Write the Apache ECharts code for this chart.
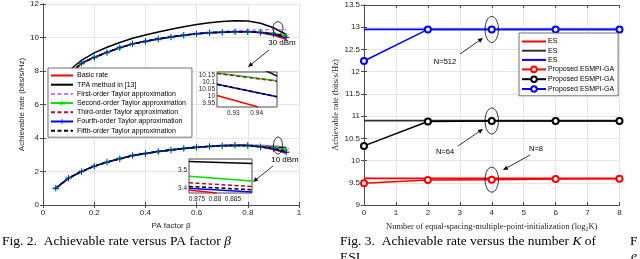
<!DOCTYPE html>
<html><head><meta charset="utf-8">
<script src="https://cdn.jsdelivr.net/npm/echarts@6/dist/echarts.min.js"></script>
<style>html,body{margin:0;padding:0;background:#fff}#c{width:640px;height:259px}</style>
</head><body><div id="c"></div>
<script>
// ---------- Fig. 2 data (PA factor beta) ----------
const beta = [0.05,0.1,0.15,0.2,0.25,0.3,0.35,0.4,0.45,0.5,0.55,0.6,0.65,0.7,0.75,0.8,0.85,0.9,0.95];
// 30 dBm
const basic30  = [6.7,7.75,8.46,8.81,9.11,9.39,9.62,9.77,9.91,10.03,10.14,10.22,10.28,10.32,10.34,10.34,10.29,10.14,9.88];
const tpa30    = [7.0,8.0,8.64,9.08,9.42,9.7,9.95,10.15,10.33,10.49,10.64,10.78,10.88,10.96,11.0,10.98,10.85,10.58,10.18];
const first30  = [6.7,7.75,8.46,8.81,9.11,9.39,9.62,9.77,9.91,10.03,10.14,10.22,10.3,10.36,10.41,10.44,10.46,10.48,10.46];
const second30 = [6.7,7.75,8.46,8.81,9.11,9.39,9.62,9.77,9.91,10.03,10.14,10.22,10.28,10.32,10.34,10.35,10.32,10.25,10.1];
const third30  = [6.7,7.75,8.46,8.81,9.11,9.39,9.62,9.77,9.91,10.03,10.14,10.22,10.28,10.32,10.34,10.35,10.32,10.24,10.09];
const fourth30 = [6.7,7.75,8.46,8.81,9.11,9.39,9.62,9.77,9.91,10.03,10.14,10.22,10.28,10.32,10.34,10.34,10.3,10.19,9.99];
const fifth30  = [6.7,7.75,8.46,8.81,9.11,9.39,9.62,9.77,9.91,10.03,10.14,10.22,10.28,10.32,10.34,10.34,10.3,10.19,9.99];
// 10 dBm
const basic10  = [1.0,1.6,1.99,2.32,2.56,2.76,2.95,3.08,3.19,3.29,3.38,3.45,3.5,3.54,3.56,3.54,3.46,3.33,3.08];
const tpa10    = [1.0,1.6,1.99,2.32,2.56,2.76,2.95,3.08,3.19,3.29,3.38,3.45,3.5,3.54,3.56,3.56,3.53,3.49,3.42];
const first10  = [1.0,1.6,1.99,2.32,2.56,2.76,2.95,3.08,3.19,3.29,3.38,3.45,3.51,3.55,3.58,3.58,3.57,3.54,3.47];
const second10 = [1.0,1.6,1.99,2.32,2.56,2.76,2.95,3.08,3.19,3.29,3.38,3.45,3.5,3.54,3.56,3.55,3.5,3.42,3.3];
const third10  = [1.0,1.6,1.99,2.32,2.56,2.76,2.95,3.08,3.19,3.29,3.38,3.45,3.5,3.54,3.56,3.55,3.49,3.39,3.22];
const fourth10 = [1.0,1.6,1.99,2.32,2.56,2.76,2.95,3.08,3.19,3.29,3.38,3.45,3.5,3.54,3.56,3.55,3.47,3.35,3.15];
const fifth10  = [1.0,1.6,1.99,2.32,2.56,2.76,2.95,3.08,3.19,3.29,3.38,3.45,3.5,3.54,3.56,3.55,3.48,3.36,3.17];
const fig2Names = ['Basic rate','TPA method in [13]','First-order Taylor approximation','Second-order Taylor approximation','Third-order Taylor approximation','Fourth-order Taylor approximation','Fifth-order Taylor approximation'];
// zoom inset near 30 dBm
const insUpX = [0.923, 0.9487];
const insUpBasic  = [[0.923,10.005],[0.9407,9.922]];
const insUpTpa    = [[0.943,10.19],[0.9487,10.143]];
const insUpSecond = [10.166,10.11];
const insUpThird  = [10.163,10.107];
const insUpFourth = [10.085,9.996];
const insUpFifth  = [10.085,9.996];
const insUpXTicks = [0.93,0.94];
const insUpYTicks = [9.95,10,10.05,10.1,10.15];
// zoom inset near 10 dBm
const insLoX = [0.8728, 0.8903];
const insLoBasic  = [[0.8728,3.39],[0.8805,3.374]];
const insLoTpa    = [3.546,3.535];
const insLoSecond = [3.465,3.44];
const insLoThird  = [3.43,3.41];
const insLoFourth = [3.40,3.38];
const insLoFifth  = [3.41,3.392];
const insLoXTicks = [0.875,0.88,0.885];
const insLoYTicks = [3.4,3.5];

// ---------- Fig. 3 data ----------
const logK = [0,2,4,6,8];
const esN8    = [9.6,9.6,9.6,9.6,9.6];
const esN64   = [10.9,10.9,10.9,10.9,10.9];
const esN512  = [12.95,12.95,12.95,12.95,12.95];
const propN8   = [9.49,9.56,9.57,9.585,9.59];
const propN64  = [10.33,10.88,10.89,10.89,10.89];
const propN512 = [12.24,12.95,12.95,12.95,12.95];

const SANS = 'Liberation Sans';
const SERIF = 'Liberation Serif';
const TXT = '#262626';
const AX = '#4d4d4d';
const GRIDC = '#e6e6e6';

const C = {red:'#ff0000', black:'#000000', purple:'#c77cff', green:'#00dd00', dred:'#a2142f', blue:'#0000ff'};
const PLUS = 'path://M4.4,0h1.2v4.4h4.4v1.2h-4.4v4.4h-1.2v-4.4h-4.4v-1.2h4.4z';
const STAR = 'path://M4.4,0h1.2v3.6l3-1.8l0.6,1l-3,1.8l3,1.8l-0.6,1l-3,-1.8v3.6h-1.2v-3.6l-3,1.8l-0.6,-1l3,-1.8l-3,-1.8l0.6,-1l3,1.8z';

const zip = (xs, ys) => xs.map((x, i) => [x, ys[i]]);

const styles = [
  {color:C.red, type:'solid', symbol:'none'},
  {color:C.black, type:'solid', symbol:'none'},
  {color:C.purple, type:[4,2.5], symbol:'none'},
  {color:C.green, type:'solid', symbol:STAR, size:5.5},
  {color:C.dred, type:[4,2.5], symbol:'none'},
  {color:C.blue, type:'solid', symbol:PLUS, size:6.5},
  {color:C.black, type:[4,2.5], symbol:'none'}
];
const d30 = [basic30,tpa30,first30,second30,third30,fourth30,fifth30];
const d10 = [basic10,tpa10,first10,second10,third10,fourth10,fifth10];

const series = [];
function mainLine(name, data, st) {
  return {
    type:'line', name, xAxisIndex:0, yAxisIndex:0, data,
    symbol: st.symbol, symbolSize: st.size || 4, showSymbol: st.symbol !== 'none',
    lineStyle:{color:st.color, width:1.5, type:st.type},
    itemStyle:{color:st.color},
    animation:false, z:2
  };
}
fig2Names.forEach((n, i) => { series.push(mainLine(n, zip(beta, d30[i]), styles[i])); });
fig2Names.forEach((n, i) => { series.push(mainLine(n, zip(beta, d10[i]), styles[i])); });

function insetLine(ax, data, st) {
  return {type:'line', name:'inset'+ax+'_'+series.length, xAxisIndex:ax, yAxisIndex:ax, data, symbol:'none', clip:true,
    lineStyle:{color:st.color, width:1.5, type:st.type}, animation:false, z:5, silent:true};
}
const upData = [insUpBasic, insUpTpa, null, zip(insUpX, insUpSecond), zip(insUpX, insUpThird), zip(insUpX, insUpFourth), zip(insUpX, insUpFifth)];
upData.forEach((d, i) => { if (d) series.push(insetLine(4, d, styles[i])); });
const loData = [insLoBasic, zip(insLoX, insLoTpa), null, zip(insLoX, insLoSecond), zip(insLoX, insLoThird), zip(insLoX, insLoFourth), zip(insLoX, insLoFifth)];
loData.forEach((d, i) => { if (d) series.push(insetLine(5, d, styles[i])); });

// Fig.3 series
const fig3 = [
  {name:'ES|8', data:esN8, color:C.red},
  {name:'ES|64', data:esN64, color:'#333333'},
  {name:'ES|512', data:esN512, color:C.blue},
  {name:'Proposed ESMPI-GA|8', data:propN8, color:C.red, mk:true},
  {name:'Proposed ESMPI-GA|64', data:propN64, color:C.black, mk:true},
  {name:'Proposed ESMPI-GA|512', data:propN512, color:C.blue, mk:true}
];
fig3.forEach(s => series.push({
  type:'line', name:s.name, xAxisIndex:2, yAxisIndex:2, data: zip(logK, s.data),
  symbol: s.mk ? 'emptyCircle' : 'none', symbolSize: 6, showSymbol: !!s.mk,
  lineStyle:{color:s.color, width: s.mk ? 1.5 : 1.8}, itemStyle:{color:s.color, borderWidth:1.4},
  animation:false, z:2
}));

const tickIn = {show:true, inside:true, length:3, lineStyle:{color:AX}};
const axLine = {show:true, lineStyle:{color:AX, width:1}};
const lbl = (fam, size) => ({color:TXT, fontFamily:fam, fontSize:size, margin:4});
function mirror(grid, pos, min, max, interval) {
  return {type:'value', gridIndex:grid, position:pos, min, max, interval,
    axisLine:axLine, axisTick:tickIn, axisLabel:{show:false}, splitLine:{show:false}};
}

const xAxis = [
  {type:'value', gridIndex:0, min:0, max:1, interval:0.2, axisLine:axLine, axisTick:tickIn,
   axisLabel:lbl(SANS,8), splitLine:{show:true, lineStyle:{color:GRIDC}},
   name:'PA factor β', nameLocation:'middle', nameGap:15, nameTextStyle:{fontFamily:SANS, fontSize:8, color:TXT}},
  mirror(0,'top',0,1,0.2),
  {type:'value', gridIndex:1, min:0, max:8, interval:1, axisLine:axLine, axisTick:tickIn,
   axisLabel:lbl(SANS,8), splitLine:{show:true, lineStyle:{color:GRIDC}},
   name:'Number of equal-spacing-multiple-point-initialization (log₂K)', nameLocation:'middle', nameGap:13,
   nameTextStyle:{fontFamily:SERIF, fontSize:8.5, color:TXT}},
  mirror(1,'top',0,8,1),
  {type:'value', gridIndex:2, min:insUpX[0], max:insUpX[1], axisLine:{show:false},
   axisTick:{show:true, inside:true, length:2, customValues:insUpXTicks, lineStyle:{color:AX}},
   axisLabel:{color:TXT, fontFamily:SANS, fontSize:6.5, margin:3, customValues:insUpXTicks}, splitLine:{show:false}},
  {type:'value', gridIndex:3, min:insLoX[0], max:insLoX[1], axisLine:{show:false},
   axisTick:{show:true, inside:true, length:2, customValues:insLoXTicks, lineStyle:{color:AX}},
   axisLabel:{color:TXT, fontFamily:SANS, fontSize:6.5, margin:3, customValues:insLoXTicks}, splitLine:{show:false}}
];
const yAxis = [
  {type:'value', gridIndex:0, min:0, max:12, interval:2, axisLine:axLine, axisTick:tickIn,
   axisLabel:lbl(SANS,8), splitLine:{show:true, lineStyle:{color:GRIDC}},
   name:'Achievable rate (bits/s/Hz)', nameLocation:'middle', nameGap:15, nameTextStyle:{fontFamily:SANS, fontSize:8, color:TXT}},
  mirror(0,'right',0,12,2),
  {type:'value', gridIndex:1, min:9, max:13.5, interval:0.5, axisLine:axLine, axisTick:tickIn,
   axisLabel:lbl(SANS,8), splitLine:{show:true, lineStyle:{color:GRIDC}},
   name:'Achievable rate (bits/s/Hz)', nameLocation:'middle', nameGap:22, nameTextStyle:{fontFamily:SERIF, fontSize:8.5, color:TXT}},
  mirror(1,'right',9,13.5,0.5),
  {type:'value', gridIndex:2, min:9.922, max:10.173, axisLine:{show:false},
   axisTick:{show:true, inside:true, length:2, customValues:insUpYTicks, lineStyle:{color:AX}},
   axisLabel:{color:TXT, fontFamily:SANS, fontSize:6.5, margin:2, customValues:insUpYTicks}, splitLine:{show:false}},
  {type:'value', gridIndex:3, min:3.374, max:3.56, axisLine:{show:false},
   axisTick:{show:true, inside:true, length:2, customValues:insLoYTicks, lineStyle:{color:AX}},
   axisLabel:{color:TXT, fontFamily:SANS, fontSize:6.5, margin:2, customValues:insLoYTicks}, splitLine:{show:false}}
];

const grid = [
  {left:43, top:4, width:256, height:201},
  {left:364, top:5, width:255.5, height:200},
  {left:217, top:72, width:60, height:35, show:true, backgroundColor:'#fff', borderColor:AX, borderWidth:1, z:3},
  {left:189, top:159, width:63, height:34, show:true, backgroundColor:'#fff', borderColor:AX, borderWidth:1, z:3}
];

const noMark = {opacity:0};
const legend = [
  {data: fig2Names.map((n, i) => styles[i].symbol === 'none' ? {name:n, itemStyle:noMark} : {name:n}),
   orient:'vertical', left:48, top:68, backgroundColor:'#fff', borderColor:AX, borderWidth:0.8,
   borderRadius:0, padding:[4,6,3,2], itemWidth:22, itemHeight:7, itemGap:2.2,
   textStyle:{fontFamily:SANS, fontSize:7, color:'#000', padding:[0,0,0,-1]}, selectedMode:false, z:6},
  {data: fig3.map(s => s.mk ? {name:s.name} : {name:s.name, itemStyle:noMark}),
   orient:'vertical', left:519, top:33, backgroundColor:'#fff', borderColor:AX, borderWidth:0.8,
   borderRadius:0, padding:[5,4,3,2], itemWidth:24, itemHeight:7, itemGap:2.2,
   formatter: n => n.split('|')[0],
   textStyle:{fontFamily:SANS, fontSize:7, color:'#000', padding:[0,0,0,-3]}, selectedMode:false, z:6}
];

const chart = echarts.init(document.getElementById('c'), null, {renderer:'canvas'});
chart.setOption({animation:false, backgroundColor:'#fff', grid, xAxis, yAxis, legend, series});

function arrow(x1, y1, x2, y2) {
  const a = Math.atan2(y2 - y1, x2 - x1), L = 5, W = 2.2;
  const bx = x2 - L * Math.cos(a), by = y2 - L * Math.sin(a);
  const px = -Math.sin(a), py = Math.cos(a);
  return [
    {type:'line', shape:{x1, y1, x2:bx, y2:by}, style:{stroke:'#000', lineWidth:0.8}, z:10},
    {type:'polygon', shape:{points:[[x2,y2],[bx+px*W,by+py*W],[bx-px*W,by-py*W]]}, style:{fill:'#000'}, z:10}
  ];
}
function ell(gridIndex, pt, rx, ry) {
  const p = chart.convertToPixel({gridIndex}, pt);
  return {type:'ellipse', shape:{cx:p[0], cy:p[1], rx, ry}, style:{stroke:'#000', fill:null, lineWidth:0.8}, z:10};
}
function txt(x, y, text, fam, size) {
  return {type:'text', x, y, z:10, style:{text, fill:'#000', font:size+'px "'+fam+'"', align:'center', verticalAlign:'middle'}};
}
const g = [];
g.push(ell(0, [0.918, 10.55], 5, 6.5));
g.push(ell(0, [0.918, 3.55], 4.5, 8.5));
g.push(txt(282, 43, '30 dBm', SANS, 8));
g.push(...arrow(269, 50, 248, 67));
g.push(txt(285, 160, '10 dBm', SANS, 8));
g.push(...arrow(273, 166, 253, 182));
g.push(ell(1, [4, 12.95], 6.7, 13));
g.push(ell(1, [4, 10.89], 6.7, 13));
g.push(ell(1, [4, 9.57], 6.7, 12.5));
g.push(txt(445, 62, 'N=512', SANS, 7.5));
g.push(...arrow(460, 54, 483, 38));
g.push(txt(445, 152, 'N=64', SANS, 7.5));
g.push(...arrow(458, 146, 483, 129));
g.push(txt(536, 149, 'N=8', SANS, 7.5));
g.push(...arrow(530, 155, 503, 170));
// captions
const rich = {n:{fontFamily:SERIF, fontSize:13.5, fill:'#000'}, i:{fontFamily:SERIF, fontSize:13.5, fontStyle:'italic', fill:'#000'}};
g.push({type:'text', x:2, y:241, z:10, style:{text:'{n|Fig. 2.  Achievable rate versus PA factor }{i|β}', verticalAlign:'middle', rich}});
g.push({type:'text', x:340, y:241, z:10, style:{text:'{n|Fig. 3.  Achievable rate versus the number }{i|K}{n| of}', verticalAlign:'middle', rich}});
g.push({type:'text', x:340, y:257, z:10, style:{text:'ESI.', verticalAlign:'middle', font:'13.5px "Liberation Serif"', fill:'#000'}});
g.push({type:'text', x:630, y:241, z:10, style:{text:'F', verticalAlign:'middle', font:'13.5px "Liberation Serif"', fill:'#000'}});
g.push({type:'text', x:631, y:256, z:10, style:{text:'e', verticalAlign:'middle', font:'italic 13.5px "Liberation Serif"', fill:'#000'}});
chart.setOption({graphic: g});
</script></body></html>
